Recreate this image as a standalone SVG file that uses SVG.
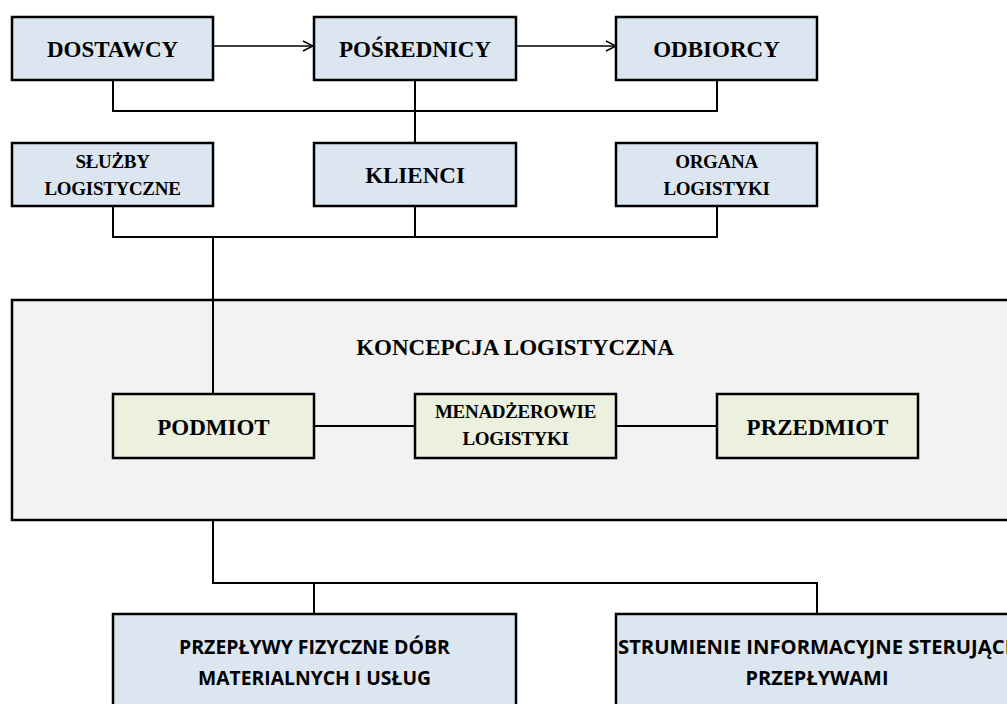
<svg xmlns="http://www.w3.org/2000/svg" width="1007" height="704" viewBox="0 0 1007 704">
<style>
.blue{fill:#dce6f1;stroke:#000;stroke-width:2.5}
.green{fill:#ebf1de;stroke:#000;stroke-width:2.5}
.big{fill:#f2f2f2;stroke:#000;stroke-width:2.5}
.t{font-family:"Liberation Serif","Times New Roman",serif;font-weight:bold;fill:#000;text-anchor:middle}
.t23{font-size:23px}
.t19{font-size:19px;letter-spacing:-0.3px}
.c{font-family:"Open Sans","Noto Sans",sans-serif;font-weight:bold;font-size:19px;fill:#000;text-anchor:middle}
.ln{fill:none;stroke:#000;stroke-width:2}
.ar{fill:none;stroke:#000;stroke-width:1.4}
</style>
<defs>
<marker id="open" markerWidth="12" markerHeight="12" refX="11" refY="6" orient="auto" markerUnits="userSpaceOnUse">
<path d="M1 1 L11 6 L1 11" fill="none" stroke="#000" stroke-width="1.4"/>
</marker>
</defs>
<rect width="1007" height="704" fill="#fff"/>
<g id="koncepcja">
<rect class="big" x="12" y="300" width="1020" height="220"/>
<text class="t t23" x="515" y="355">KONCEPCJA LOGISTYCZNA</text>
</g>
<g id="connectors">
<line class="ar" x1="213" y1="46" x2="313" y2="46" marker-end="url(#open)"/>
<line class="ar" x1="516" y1="46" x2="616" y2="46" marker-end="url(#open)"/>
<path class="ln" d="M113 80 V111 H717 V80 M415 80 V143"/>
<path class="ln" d="M113 206 V237 H717 V206 M415 206 V237 M213 237 V394"/>
<path class="ln" d="M314 426 H415 M616 426 H717"/>
<path class="ln" d="M213 520 V583 H817 V614 M314 583 V614"/>
</g>
<g id="dostawcy">
<rect class="blue" x="12" y="17" width="201" height="63"/>
<text class="t t23" x="112.5" y="57">DOSTAWCY</text>
</g>
<g id="posrednicy">
<rect class="blue" x="314" y="17" width="202" height="63"/>
<text class="t t23" x="415" y="57">POŚREDNICY</text>
</g>
<g id="odbiorcy">
<rect class="blue" x="616" y="17" width="201" height="63"/>
<text class="t t23" x="716.5" y="57">ODBIORCY</text>
</g>
<g id="sluzby">
<rect class="blue" x="12" y="143" width="201" height="63"/>
<text class="t t19" x="112.5" y="168">SŁUŻBY</text>
<text class="t t19" x="112.5" y="195">LOGISTYCZNE</text>
</g>
<g id="klienci">
<rect class="blue" x="314" y="143" width="202" height="63"/>
<text class="t t23" x="415" y="183">KLIENCI</text>
</g>
<g id="organa">
<rect class="blue" x="616" y="143" width="201" height="63"/>
<text class="t t19" x="716.5" y="168">ORGANA</text>
<text class="t t19" x="716.5" y="195">LOGISTYKI</text>
</g>
<g id="podmiot">
<rect class="green" x="113" y="394" width="201" height="64"/>
<text class="t t23" x="213.5" y="435">PODMIOT</text>
</g>
<g id="menadzerowie">
<rect class="green" x="415" y="394" width="201" height="64"/>
<text class="t t19" x="515.5" y="418">MENADŻEROWIE</text>
<text class="t t19" x="515.5" y="445">LOGISTYKI</text>
</g>
<g id="przedmiot">
<rect class="green" x="717" y="394" width="201" height="64"/>
<text class="t t23" x="817.5" y="435">PRZEDMIOT</text>
</g>
<g id="przeplywy">
<rect class="blue" x="113" y="614" width="403" height="100"/>
<text class="c" x="314.5" y="654" textLength="271" lengthAdjust="spacingAndGlyphs">PRZEPŁYWY FIZYCZNE DÓBR</text>
<text class="c" x="314.5" y="685" textLength="233" lengthAdjust="spacingAndGlyphs">MATERIALNYCH I USŁUG</text>
</g>
<g id="strumienie">
<rect class="blue" x="616" y="614" width="403" height="100"/>
<text class="c" x="817" y="654" textLength="398" lengthAdjust="spacingAndGlyphs">STRUMIENIE INFORMACYJNE STERUJĄCE</text>
<text class="c" x="817" y="685" textLength="143" lengthAdjust="spacingAndGlyphs">PRZEPŁYWAMI</text>
</g>
</svg>
